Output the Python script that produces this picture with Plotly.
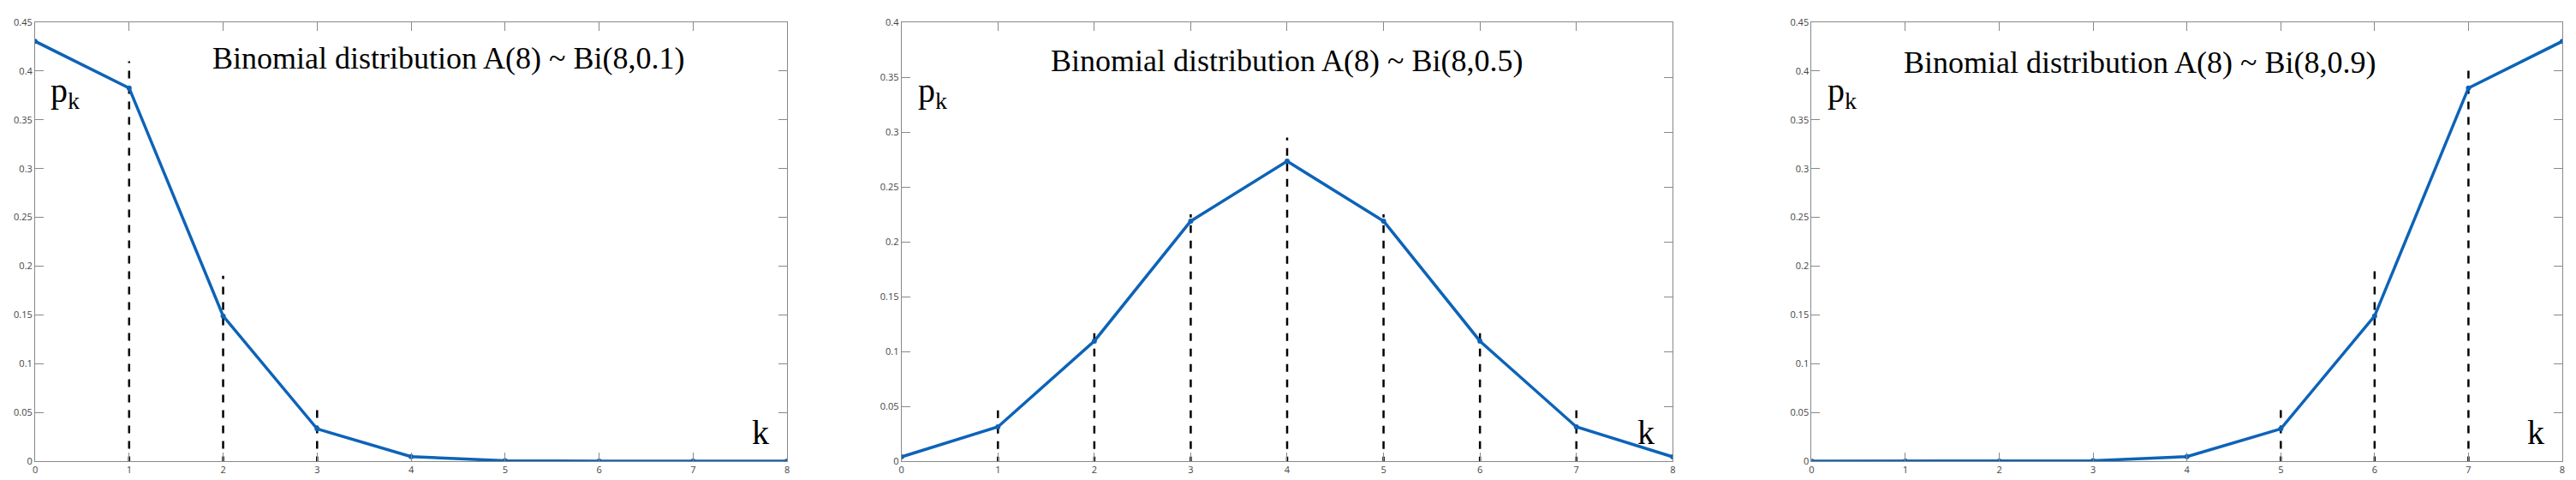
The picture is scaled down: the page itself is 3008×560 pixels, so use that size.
import plotly.graph_objects as go
from plotly.subplots import make_subplots

k = [0, 1, 2, 3, 4, 5, 6, 7, 8]
p_01 = [0.4305, 0.3826, 0.1488, 0.0331, 0.0046, 0.0004, 0.0000, 0.0000, 0.0000]
p_05 = [0.0039, 0.0313, 0.1094, 0.2188, 0.2734, 0.2188, 0.1094, 0.0313, 0.0039]
p_09 = [0.0000, 0.0000, 0.0000, 0.0004, 0.0046, 0.0331, 0.1488, 0.3826, 0.4305]

# dashed markers drawn by hand in the original: (k, top)
dash_01 = [(1, 0.41), (2, 0.19), (3, 0.055)]
dash_05 = [(1, 0.052), (2, 0.12), (3, 0.225), (4, 0.295), (5, 0.225), (6, 0.12), (7, 0.047)]
dash_09 = [(5, 0.057), (6, 0.2), (7, 0.405)]

titles = ["Binomial distribution A(8) ~ Bi(8,0.1)",
          "Binomial distribution A(8) ~ Bi(8,0.5)",
          "Binomial distribution A(8) ~ Bi(8,0.9)"]
y_max = [0.45, 0.4, 0.45]
title_pos = [(4.4, 0.413), (4.0, 0.365), (3.5, 0.409)]

fig = make_subplots(rows=1, cols=3)
domains = [[0.01, 0.3025], [0.347, 0.647], [0.701, 0.993]]
blue = "#0d63b8"

for i, (p, dashes) in enumerate(zip([p_01, p_05, p_09], [dash_01, dash_05, dash_09])):
    col = i + 1
    for xk, top in dashes:
        fig.add_trace(go.Scatter(x=[xk, xk], y=[-0.003, top], mode="lines",
                                 line=dict(color="black", width=2.5, dash="dash"),
                                 showlegend=False, hoverinfo="skip"), row=1, col=col)
    fig.add_trace(go.Scatter(x=k, y=p, mode="lines+markers",
                             line=dict(color=blue, width=3.5),
                             marker=dict(size=6, color=blue),
                             showlegend=False), row=1, col=col)
    ax = "" if i == 0 else str(col)
    fig.update_xaxes(range=[0, 8], dtick=1, domain=domains[i], showgrid=False, zeroline=False,
                     showline=True, mirror="ticks", linecolor="#888", ticks="inside",
                     ticklen=10, tickcolor="#888", tickfont=dict(size=11, color="#444"),
                     row=1, col=col)
    fig.update_yaxes(range=[0, y_max[i]], dtick=0.05, showgrid=False, zeroline=False,
                     showline=True, mirror="ticks", linecolor="#888", ticks="inside",
                     ticklen=10, tickcolor="#888", tickfont=dict(size=11, color="#444"),
                     row=1, col=col)
    tx, ty = title_pos[i]
    fig.add_annotation(x=tx, y=ty, xref="x" + ax, yref="y" + ax, text=titles[i],
                       showarrow=False, font=dict(family="Liberation Serif", size=36, color="black"))
    fig.add_annotation(x=0.15, y=y_max[i] * 0.84, xref="x" + ax, yref="y" + ax,
                       text="p<sub>k</sub>", showarrow=False, xanchor="left",
                       font=dict(family="Liberation Serif", size=40, color="black"))
    fig.add_annotation(x=7.72, y=y_max[i] * 0.065, xref="x" + ax, yref="y" + ax,
                       text="k", showarrow=False,
                       font=dict(family="Liberation Serif", size=40, color="black"))

fig.update_layout(width=3008, height=560, plot_bgcolor="white", paper_bgcolor="white",
                  margin=dict(l=0, r=0, t=18, b=30))
fig.write_html("out.html")
